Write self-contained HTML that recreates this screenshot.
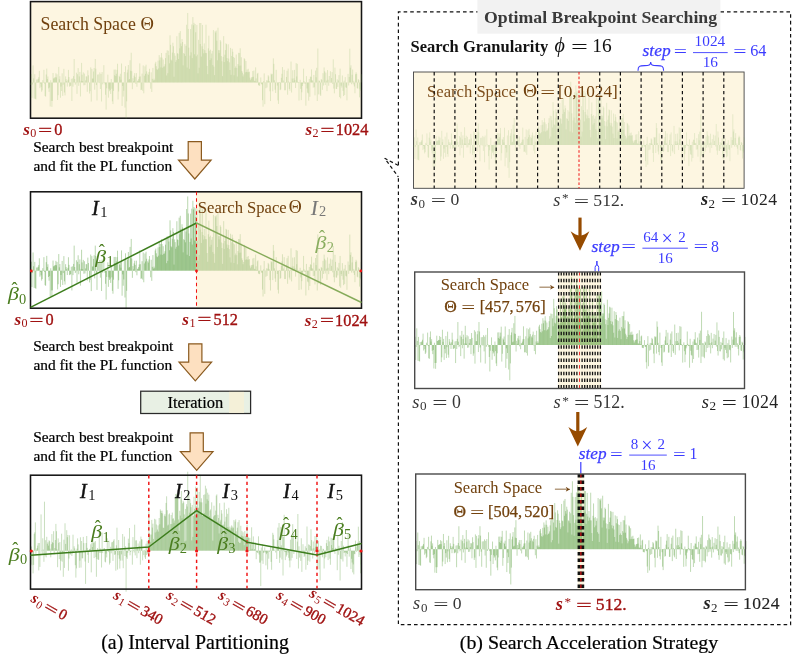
<!DOCTYPE html><html><head><meta charset="utf-8"><title>Interval Partitioning and Search Acceleration</title>
<style>html,body{margin:0;padding:0;background:#fff}svg{display:block}text{font-family:"Liberation Serif","DejaVu Serif",serif}
.m{font-style:italic}.b{font-weight:bold}.red{fill:#a01212}.brn{fill:#70400d}.grn{fill:#4a7d1f}.blu{fill:#3c3cff}.gry{fill:#333}
</style></head><body>
<svg width="798" height="668" viewBox="0 0 798 668">
<defs><path id="sL" d="M0.29 0v2.8M0.86 0v-9.6M1.43 0v17.4M2.00 0v2.3M2.57 0v-19.4M3.14 0v-4.7M3.71 0v18.3M4.28 0v-9.4M4.85 0v18.6M5.42 0v19.2M5.99 0v-3.4M6.56 0v0.5M7.13 0v-3.4M7.70 0v-4.3M8.28 0v-6.1M8.85 0v-13.2M9.42 0v6.4M9.99 0v1.2M10.56 0v4.9M11.13 0v10.5M11.70 0v8.9M12.27 0v-2.7M12.84 0v-0.5M13.41 0v-14.4M13.98 0v1.2M14.55 0v15.3M15.12 0v16.1M15.69 0v-9.1M16.26 0v-15.8M16.84 0v-4.0M17.41 0v-6.8M17.98 0v6.7M18.55 0v10.6M19.12 0v5.8M19.69 0v27.3M20.26 0v-2.6M20.83 0v20.9M21.40 0v27.7M21.97 0v20.9M22.54 0v-10.8M23.11 0v-4.6M23.68 0v-4.8M24.25 0v-5.7M24.82 0v-6.0M25.40 0v-10.5M25.97 0v-5.8M26.54 0v-9.3M27.11 0v19.9M27.68 0v14.4M28.25 0v-17.7M28.82 0v-3.6M29.39 0v-7.1M29.96 0v17.3M30.53 0v4.6M31.10 0v9.7M31.67 0v-10.4M32.24 0v15.2M32.81 0v2.5M33.39 0v-15.5M33.96 0v11.3M34.53 0v14.7M35.10 0v-6.9M35.67 0v-3.8M36.24 0v-1.6M36.81 0v4.6M37.38 0v-3.1M37.95 0v-14.3M38.52 0v-6.2M39.09 0v4.7M39.66 0v4.1M40.23 0v3.7M40.80 0v-4.2M41.38 0v21.0M41.95 0v-4.6M42.52 0v4.7M43.09 0v-7.2M43.66 0v-26.7M44.23 0v-3.9M44.80 0v2.5M45.37 0v0.7M45.94 0v-11.1M46.51 0v12.9M47.08 0v-9.4M47.65 0v-16.4M48.22 0v3.8M48.79 0v-6.9M49.36 0v-12.0M49.94 0v15.9M50.51 0v-1.9M51.08 0v-22.3M51.65 0v-8.8M52.22 0v-1.6M52.79 0v-11.5M53.36 0v3.2M53.93 0v-10.1M54.50 0v2.9M55.07 0v-2.4M55.64 0v-7.0M56.21 0v-6.8M56.78 0v10.6M57.35 0v-13.9M57.92 0v-8.2M58.50 0v-0.0M59.07 0v12.5M59.64 0v9.8M60.21 0v-17.2M60.78 0v21.7M61.35 0v-15.5M61.92 0v-4.4M62.49 0v-4.5M63.06 0v-12.5M63.63 0v-16.4M64.20 0v8.2M64.77 0v-26.7M65.34 0v-15.7M65.91 0v2.9M66.49 0v20.4M67.06 0v-9.0M67.63 0v0.1M68.20 0v-9.2M68.77 0v0.7M69.34 0v-11.4M69.91 0v7.4M70.48 0v-9.7M71.05 0v21.6M71.62 0v-11.8M72.19 0v2.1M72.76 0v0.3M73.33 0v-19.7M73.90 0v-0.5M74.48 0v2.2M75.05 0v13.9M75.62 0v30.8M76.19 0v6.6M76.76 0v-0.1M77.33 0v-8.9M77.90 0v17.2M78.47 0v7.0M79.04 0v9.9M79.61 0v8.5M80.18 0v13.0M80.75 0v-4.0M81.32 0v7.1M81.89 0v21.4M82.46 0v24.5M83.04 0v9.6M83.61 0v-14.6M84.18 0v-8.2M84.75 0v-14.7M85.32 0v-7.3M85.89 0v-9.9M86.46 0v-14.4M87.03 0v-21.3M87.60 0v19.3M88.17 0v10.2M88.74 0v-7.6M89.31 0v-6.2M89.88 0v-9.9M90.45 0v-3.2M91.03 0v-21.6M91.60 0v26.6M92.17 0v3.9M92.74 0v16.0M93.31 0v9.3M93.88 0v-11.9M94.45 0v28.5M95.02 0v-18.5M95.59 0v41.0M96.16 0v21.4M96.73 0v-11.4M97.30 0v-14.6M97.87 0v-19.9M98.44 0v-3.2M99.01 0v-4.0M99.59 0v-25.3M100.16 0v-13.4M100.73 0v-33.8M101.30 0v-12.9M101.87 0v7.6M102.44 0v-4.9M103.01 0v-1.4M103.58 0v-7.8M104.15 0v-10.6M104.72 0v-6.1M105.29 0v1.6M105.86 0v-10.7M106.43 0v4.9M107.00 0v-2.0M107.58 0v-2.0M108.15 0v-3.9M108.72 0v-6.6M109.29 0v-21.7M109.86 0v-6.9M110.43 0v8.6M111.00 0v8.2M111.57 0v-10.1M112.14 0v9.4M112.71 0v-19.4M113.28 0v12.3M113.85 0v-7.7M114.42 0v-18.3M114.99 0v-9.8M115.56 0v-20.2M116.14 0v-12.7M116.71 0v-0.4M117.28 0v-10.0M117.85 0v-8.6M118.42 0v-12.0M118.99 0v-15.6M119.56 0v0.4M120.13 0v7.0M120.70 0v-11.6M121.27 0v10.8M121.84 0v-4.1M122.41 0v-16.6M122.98 0v-2.3M123.55 0v-4.3M124.12 0v-2.6M124.70 0v-21.5M125.27 0v-23.5M125.84 0v-18.5M126.41 0v-15.2M126.98 0v-14.4M127.55 0v-24.8M128.12 0v-16.0M128.69 0v-31.1M129.26 0v-25.2M129.83 0v-28.5M130.40 0v-17.2M130.97 0v-33.5M131.54 0v-28.3M132.11 0v-16.8M132.69 0v-26.1M133.26 0v-17.9M133.83 0v-18.3M134.40 0v-20.7M134.97 0v-27.7M135.54 0v-33.6M136.11 0v-8.0M136.68 0v-36.6M137.25 0v-10.5M137.82 0v-36.1M138.39 0v-31.0M138.96 0v-21.8M139.53 0v-53.6M140.10 0v-42.8M140.67 0v-25.9M141.25 0v-24.9M141.82 0v-34.0M142.39 0v-45.2M142.96 0v-41.2M143.53 0v-6.5M144.10 0v-33.3M144.67 0v-30.4M145.24 0v-23.4M145.81 0v-25.4M146.38 0v-52.6M146.95 0v-33.3M147.52 0v-32.6M148.09 0v-26.7M148.66 0v-56.4M149.24 0v-38.8M149.81 0v-58.4M150.38 0v-44.3M150.95 0v-41.3M151.52 0v-49.4M152.09 0v-46.0M152.66 0v-19.5M153.23 0v-33.5M153.80 0v-32.5M154.37 0v-43.6M154.94 0v-30.2M155.51 0v-41.7M156.08 0v-65.6M156.65 0v-17.0M157.22 0v-79.0M157.80 0v-60.9M158.37 0v-39.6M158.94 0v-15.6M159.51 0v-30.6M160.08 0v-60.7M160.65 0v-34.3M161.22 0v-66.0M161.79 0v-27.8M162.36 0v-74.4M162.93 0v-65.1M163.50 0v-67.8M164.07 0v-32.1M164.64 0v-66.4M165.21 0v-57.1"/><path id="sR" d="M165.79 0v-29.8M166.36 0v-65.4M166.93 0v-31.7M167.50 0v-10.4M168.07 0v-48.5M168.64 0v-16.8M169.21 0v-67.6M169.78 0v-43.7M170.35 0v-67.6M170.92 0v-29.5M171.49 0v-41.2M172.06 0v-65.4M172.63 0v-38.0M173.20 0v-33.2M173.78 0v-44.4M174.35 0v-36.7M174.92 0v-33.6M175.49 0v-65.7M176.06 0v-33.4M176.63 0v-18.8M177.20 0v-9.5M177.77 0v-38.8M178.34 0v-53.2M178.91 0v-36.1M179.48 0v-25.5M180.05 0v-37.3M180.62 0v-27.5M181.19 0v-32.9M181.76 0v-35.9M182.34 0v-19.8M182.91 0v-59.5M183.48 0v-18.0M184.05 0v-8.4M184.62 0v-58.2M185.19 0v-56.7M185.76 0v-59.0M186.33 0v-47.5M186.90 0v-25.2M187.47 0v-62.2M188.04 0v-36.8M188.61 0v-33.4M189.18 0v-36.7M189.75 0v-48.3M190.32 0v-46.6M190.90 0v-30.0M191.47 0v-24.1M192.04 0v-7.3M192.61 0v-29.2M193.18 0v-52.7M193.75 0v-23.2M194.32 0v-31.6M194.89 0v-36.8M195.46 0v-44.5M196.03 0v-43.6M196.60 0v-27.8M197.17 0v-24.3M197.74 0v-43.4M198.31 0v-27.2M198.89 0v-22.9M199.46 0v-14.2M200.03 0v-39.3M200.60 0v-8.7M201.17 0v-30.2M201.74 0v-38.3M202.31 0v-34.9M202.88 0v-29.0M203.45 0v-8.2M204.02 0v-28.1M204.59 0v-16.5M205.16 0v-18.3M205.73 0v-31.8M206.30 0v-16.5M206.88 0v-6.8M207.45 0v-21.0M208.02 0v-33.7M208.59 0v-19.1M209.16 0v-33.6M209.73 0v-38.9M210.30 0v-19.2M210.87 0v-28.7M211.44 0v-13.1M212.01 0v-11.2M212.58 0v-6.9M213.15 0v-9.2M213.72 0v-27.6M214.29 0v-26.4M214.86 0v-11.6M215.44 0v-24.4M216.01 0v-12.0M216.58 0v-14.7M217.15 0v-11.7M217.72 0v-15.6M218.29 0v-11.8M218.86 0v-12.3M219.43 0v-5.5M220.00 0v-2.6M220.57 0v-4.2M221.14 0v-5.9M221.71 0v-6.1M222.28 0v-13.0M222.85 0v-6.5M223.43 0v-13.6M224.00 0v-2.0M224.57 0v-1.5M225.14 0v-17.2M225.71 0v-4.6M226.28 0v-0.8M226.85 0v-10.0M227.42 0v-11.0M227.99 0v3.0M228.56 0v3.4M229.13 0v3.7M229.70 0v0.3M230.27 0v-5.7M230.84 0v1.8M231.41 0v2.3M231.99 0v20.1M232.56 0v27.5M233.13 0v-1.4M233.70 0v-10.3M234.27 0v24.7M234.84 0v-0.3M235.41 0v6.5M235.98 0v-2.5M236.55 0v5.6M237.12 0v-2.2M237.69 0v-8.3M238.26 0v-6.8M238.83 0v-1.6M239.40 0v10.0M239.97 0v21.1M240.55 0v-10.1M241.12 0v-9.0M241.69 0v-9.8M242.26 0v10.0M242.83 0v-27.4M243.40 0v-21.2M243.97 0v-2.5M244.54 0v8.2M245.11 0v11.9M245.68 0v-14.4M246.25 0v0.1M246.82 0v3.5M247.39 0v20.3M247.96 0v24.3M248.54 0v0.4M249.11 0v-0.6M249.68 0v8.7M250.25 0v7.8M250.82 0v-5.3M251.39 0v-9.9M251.96 0v-17.5M252.53 0v-0.2M253.10 0v-2.3M253.67 0v-14.4M254.24 0v8.9M254.81 0v8.8M255.38 0v-0.4M255.95 0v-6.3M256.53 0v-13.3M257.10 0v13.9M257.67 0v-15.8M258.24 0v-1.1M258.81 0v7.3M259.38 0v9.4M259.95 0v-0.4M260.52 0v-23.8M261.09 0v11.4M261.66 0v-4.5M262.23 0v-13.9M262.80 0v-1.1M263.37 0v-4.7M263.94 0v-14.3M264.51 0v-2.6M265.09 0v6.3M265.66 0v-22.0M266.23 0v-6.9M266.80 0v-21.2M267.37 0v-0.8M267.94 0v0.6M268.51 0v20.5M269.08 0v-0.3M269.65 0v-3.1M270.22 0v7.2M270.79 0v20.0M271.36 0v11.1M271.93 0v3.9M272.50 0v1.5M273.07 0v-15.7M273.65 0v-1.4M274.22 0v1.3M274.79 0v1.0M275.36 0v26.4M275.93 0v-7.2M276.50 0v6.7M277.07 0v11.5M277.64 0v12.4M278.21 0v20.7M278.78 0v-4.0M279.35 0v16.3M279.92 0v-6.8M280.49 0v-6.2M281.06 0v-14.9M281.64 0v-2.7M282.21 0v-2.0M282.78 0v5.8M283.35 0v-8.6M283.92 0v5.5M284.49 0v14.6M285.06 0v-13.5M285.63 0v-5.9M286.20 0v-16.7M286.77 0v21.0M287.34 0v-38.6M287.91 0v13.5M288.48 0v-2.2M289.05 0v-1.9M289.62 0v13.7M290.20 0v15.3M290.77 0v-4.0M291.34 0v-2.9M291.91 0v8.3M292.48 0v-10.5M293.05 0v3.5M293.62 0v-17.1M294.19 0v-12.7M294.76 0v2.9M295.33 0v-11.1M295.90 0v-2.2M296.47 0v9.8M297.04 0v-14.1M297.61 0v-3.1M298.19 0v3.7M298.76 0v-7.4M299.33 0v-0.1M299.90 0v-12.8M300.47 0v-0.4M301.04 0v-5.1M301.61 0v-11.8M302.18 0v1.8M302.75 0v-26.3M303.32 0v6.9M303.89 0v12.3M304.46 0v-16.9M305.03 0v-9.4M305.60 0v7.2M306.18 0v7.4M306.75 0v-3.6M307.32 0v5.0M307.89 0v-2.3M308.46 0v-8.3M309.03 0v16.6M309.60 0v-15.7M310.17 0v18.1M310.74 0v3.6M311.31 0v5.7M311.88 0v-8.0M312.45 0v9.5M313.02 0v15.4M313.59 0v-2.1M314.16 0v14.3M314.74 0v-6.1M315.31 0v5.4M315.88 0v6.1M316.45 0v20.3M317.02 0v-0.1M317.59 0v-9.8M318.16 0v3.4M318.73 0v-6.3M319.30 0v-38.4M319.87 0v-16.8M320.44 0v-19.5M321.01 0v2.0M321.58 0v-8.8M322.15 0v-14.8M322.72 0v2.2M323.30 0v-1.9M323.87 0v4.5M324.44 0v12.2M325.01 0v-9.4M325.58 0v-11.6M326.15 0v-9.8M326.72 0v6.4M327.29 0v7.0M327.86 0v-3.8M328.43 0v-2.6M329.00 0v16.9M329.57 0v7.6M330.14 0v9.4M330.71 0v-9.4"/><path id="s3" d="M0.29 0v13.5M0.86 0v-4.2M1.43 0v14.6M2.00 0v0.7M2.57 0v22.7M3.14 0v14.2M3.71 0v-16.9M4.28 0v-18.4M4.85 0v-28.3M5.42 0v3.2M5.99 0v-1.1M6.56 0v-2.7M7.13 0v-5.1M7.70 0v-7.6M8.28 0v19.7M8.85 0v-7.7M9.42 0v16.2M9.99 0v-0.0M10.56 0v-36.3M11.13 0v0.5M11.70 0v3.2M12.27 0v-12.4M12.84 0v-1.1M13.41 0v11.1M13.98 0v-49.0M14.55 0v5.6M15.12 0v-10.5M15.69 0v6.6M16.26 0v-13.9M16.84 0v-6.9M17.41 0v-8.4M17.98 0v-5.1M18.55 0v-10.4M19.12 0v-9.5M19.69 0v-2.0M20.26 0v6.6M20.83 0v-6.5M21.40 0v-16.6M21.97 0v-8.6M22.54 0v-7.7M23.11 0v-19.5M23.68 0v3.6M24.25 0v-2.7M24.82 0v-10.7M25.40 0v-26.8M25.97 0v-19.5M26.54 0v-1.4M27.11 0v16.5M27.68 0v-12.3M28.25 0v-7.8M28.82 0v8.4M29.39 0v-8.7M29.96 0v19.7M30.53 0v10.0M31.10 0v-17.0M31.67 0v11.0M32.24 0v1.7M32.81 0v26.1M33.39 0v-11.0M33.96 0v17.2M34.53 0v-27.4M35.10 0v-6.8M35.67 0v0.9M36.24 0v-20.5M36.81 0v-13.5M37.38 0v-15.7M37.95 0v20.0M38.52 0v7.8M39.09 0v-15.4M39.66 0v3.7M40.23 0v3.7M40.80 0v-1.3M41.38 0v5.3M41.95 0v2.6M42.52 0v-16.0M43.09 0v2.0M43.66 0v-4.4M44.23 0v-2.3M44.80 0v14.5M45.37 0v26.9M45.94 0v17.7M46.51 0v-2.0M47.08 0v-12.3M47.65 0v-6.3M48.22 0v1.4M48.79 0v17.1M49.36 0v10.0M49.94 0v-13.4M50.51 0v16.9M51.08 0v-9.7M51.65 0v7.6M52.22 0v7.6M52.79 0v-13.8M53.36 0v-7.6M53.93 0v1.5M54.50 0v10.8M55.07 0v33.2M55.64 0v-7.7M56.21 0v-14.7M56.78 0v-2.8M57.35 0v4.1M57.92 0v12.2M58.50 0v0.1M59.07 0v-1.7M59.64 0v-2.0M60.21 0v-6.4M60.78 0v21.7M61.35 0v-8.3M61.92 0v-3.7M62.49 0v-11.1M63.06 0v-7.9M63.63 0v7.4M64.20 0v-8.4M64.77 0v-9.7M65.34 0v6.5M65.91 0v26.1M66.49 0v8.4M67.06 0v-2.7M67.63 0v9.0M68.20 0v9.1M68.77 0v-20.4M69.34 0v2.3M69.91 0v-2.2M70.48 0v2.3M71.05 0v16.8M71.62 0v-18.2M72.19 0v2.4M72.76 0v-0.7M73.33 0v-2.2M73.90 0v-2.6M74.48 0v11.0M75.05 0v11.7M75.62 0v2.9M76.19 0v6.7M76.76 0v-12.4M77.33 0v-0.8M77.90 0v1.4M78.47 0v-10.0M79.04 0v13.9M79.61 0v12.2M80.18 0v-3.9M80.75 0v2.6M81.32 0v-8.3M81.89 0v-8.8M82.46 0v10.2M83.04 0v-10.0M83.61 0v-11.5M84.18 0v4.2M84.75 0v3.6M85.32 0v20.0M85.89 0v-5.4M86.46 0v-23.0M87.03 0v18.9M87.60 0v4.5M88.17 0v-10.7M88.74 0v8.0M89.31 0v17.9M89.88 0v9.9M90.45 0v-1.5M91.03 0v3.7M91.60 0v9.9M92.17 0v-16.7M92.74 0v17.5M93.31 0v-0.2M93.88 0v-14.1M94.45 0v5.3M95.02 0v-4.4M95.59 0v41.0M96.16 0v6.6M96.73 0v8.2M97.30 0v2.1M97.87 0v-12.0M98.44 0v-7.6M99.01 0v-22.7M99.59 0v4.6M100.16 0v1.3M100.73 0v0.1M101.30 0v-0.4M101.87 0v14.0M102.44 0v-13.6M103.01 0v-0.5M103.58 0v1.8M104.15 0v-26.0M104.72 0v4.7M105.29 0v-10.2M105.86 0v-10.4M106.43 0v7.5M107.00 0v-3.4M107.58 0v-7.2M108.15 0v2.5M108.72 0v-4.7M109.29 0v-9.4M109.86 0v14.0M110.43 0v-14.1M111.00 0v-11.4M111.57 0v-11.2M112.14 0v9.6M112.71 0v0.2M113.28 0v4.4M113.85 0v-0.8M114.42 0v6.7M114.99 0v8.3M115.56 0v-7.0M116.14 0v4.3M116.71 0v-9.8M117.28 0v3.5M117.85 0v-9.8M118.42 0v-40.6M118.99 0v-17.3M119.56 0v-16.1M120.13 0v-8.9M120.70 0v-16.2M121.27 0v-30.8M121.84 0v-23.1M122.41 0v-27.0M122.98 0v-11.8M123.55 0v-6.8M124.12 0v-31.9M124.70 0v-18.2M125.27 0v-31.2M125.84 0v-26.2M126.41 0v-19.1M126.98 0v-21.2M127.55 0v-25.3M128.12 0v-19.1M128.69 0v-32.7M129.26 0v-26.4M129.83 0v-41.3M130.40 0v-39.8M130.97 0v-37.7M131.54 0v-40.1M132.11 0v-37.3M132.69 0v-23.0M133.26 0v-22.8M133.83 0v-34.9M134.40 0v-36.5M134.97 0v-34.4M135.54 0v-47.8M136.11 0v-54.4M136.68 0v-40.5M137.25 0v-25.2M137.82 0v-26.1M138.39 0v-36.3M138.96 0v-37.3M139.53 0v-18.6M140.10 0v-26.6M140.67 0v-35.7M141.25 0v-26.7M141.82 0v-38.1M142.39 0v-32.0M142.96 0v-32.3M143.53 0v-27.9M144.10 0v-30.2M144.67 0v-52.7M145.24 0v-56.7M145.81 0v-53.9M146.38 0v-57.1M146.95 0v-56.1M147.52 0v-58.2M148.09 0v-31.2M148.66 0v-19.9M149.24 0v-39.9M149.81 0v-35.1M150.38 0v-52.2M150.95 0v-59.7M151.52 0v-32.5M152.09 0v-47.4M152.66 0v-49.9M153.23 0v-48.3M153.80 0v-36.3M154.37 0v-9.2M154.94 0v-41.8M155.51 0v-10.0M156.08 0v-46.5M156.65 0v-44.2M157.22 0v-79.0M157.80 0v-34.5M158.37 0v-55.7M158.94 0v-38.0M159.51 0v-51.5M160.08 0v-47.6M160.65 0v-43.5M161.22 0v-10.3M161.79 0v-45.7M162.36 0v-13.8M162.93 0v-34.7M163.50 0v-54.0M164.07 0v-41.8M164.64 0v-35.6M165.21 0v-64.0M165.79 0v-44.6M166.36 0v-40.8M166.93 0v-63.1M167.50 0v-42.3M168.07 0v-43.0M168.64 0v-58.7M169.21 0v-49.2M169.78 0v-74.9M170.35 0v-48.4M170.92 0v-52.4M171.49 0v-48.3M172.06 0v-34.8M172.63 0v-34.7M173.20 0v-55.8M173.78 0v-37.5M174.35 0v-56.3M174.92 0v-65.0M175.49 0v-47.0M176.06 0v-62.1M176.63 0v-51.4M177.20 0v-58.0M177.77 0v-49.9M178.34 0v-56.1M178.91 0v-34.3M179.48 0v-40.1M180.05 0v-41.3M180.62 0v-32.1M181.19 0v-48.4M181.76 0v-31.7M182.34 0v-10.1M182.91 0v-34.2M183.48 0v-45.0M184.05 0v-35.2M184.62 0v-35.7M185.19 0v-40.1M185.76 0v-55.1M186.33 0v-56.3M186.90 0v-29.1M187.47 0v-35.9M188.04 0v-32.7M188.61 0v-17.2M189.18 0v-47.5M189.75 0v-29.2M190.32 0v-30.9M190.90 0v-40.6M191.47 0v-37.1M192.04 0v-25.8M192.61 0v-11.6M193.18 0v-26.1M193.75 0v-48.1M194.32 0v-29.1M194.89 0v-21.7M195.46 0v-33.9M196.03 0v-41.5M196.60 0v-23.7M197.17 0v-36.9M197.74 0v-23.3M198.31 0v-42.9M198.89 0v-21.6M199.46 0v-24.1M200.03 0v-20.9M200.60 0v-22.8M201.17 0v-25.3M201.74 0v-24.1M202.31 0v-22.3M202.88 0v-23.1M203.45 0v-30.6M204.02 0v-5.8M204.59 0v-29.1M205.16 0v-31.3M205.73 0v-19.4M206.30 0v-16.5M206.88 0v-23.0M207.45 0v-28.5M208.02 0v-8.9M208.59 0v-30.6M209.16 0v-7.7M209.73 0v-8.0M210.30 0v-24.9M210.87 0v-15.2M211.44 0v-19.8M212.01 0v-14.4M212.58 0v-18.4M213.15 0v-14.2M213.72 0v-5.5M214.29 0v-19.6M214.86 0v-14.8M215.44 0v-11.2M216.01 0v-16.4M216.58 0v-26.0M217.15 0v-16.6M217.72 0v-13.3M218.29 0v-12.9M218.86 0v-0.7M219.43 0v-12.9M220.00 0v-6.4M220.57 0v-1.2M221.14 0v-23.4M221.71 0v-1.9M222.28 0v-7.7M222.85 0v-14.3M223.43 0v-0.6M224.00 0v-1.7M224.57 0v-6.1M225.14 0v-8.5M225.71 0v8.5M226.28 0v1.1M226.85 0v1.9M227.42 0v2.4M227.99 0v-14.4M228.56 0v3.8M229.13 0v12.0M229.70 0v11.8M230.27 0v35.4M230.84 0v-3.2M231.41 0v9.9M231.99 0v-6.3M232.56 0v13.2M233.13 0v2.2M233.70 0v1.6M234.27 0v-3.3M234.84 0v1.7M235.41 0v14.7M235.98 0v3.5M236.55 0v2.3M237.12 0v18.8M237.69 0v0.2M238.26 0v8.0M238.83 0v1.3M239.40 0v-0.4M239.97 0v-4.1M240.55 0v11.2M241.12 0v19.1M241.69 0v-3.2M242.26 0v-17.9M242.83 0v-15.9M243.40 0v-11.3M243.97 0v-0.4M244.54 0v0.1M245.11 0v1.8M245.68 0v-3.5M246.25 0v8.3M246.82 0v-10.6M247.39 0v-23.1M247.96 0v-4.6M248.54 0v-27.7M249.11 0v12.2M249.68 0v7.0M250.25 0v-23.9M250.82 0v-5.4M251.39 0v8.8M251.96 0v-26.3M252.53 0v24.8M253.10 0v-13.8M253.67 0v-35.9M254.24 0v1.4M254.81 0v9.4M255.38 0v1.4M255.95 0v5.8M256.53 0v4.2M257.10 0v-1.5M257.67 0v1.8M258.24 0v7.1M258.81 0v9.9M259.38 0v16.7M259.95 0v-11.0M260.52 0v9.8M261.09 0v-14.6M261.66 0v7.2M262.23 0v-26.5M262.80 0v-16.8M263.37 0v3.3M263.94 0v0.6M264.51 0v0.2M265.09 0v-19.8M265.66 0v-0.3M266.23 0v8.3M266.80 0v-9.1M267.37 0v-36.7M267.94 0v17.8M268.51 0v-4.4M269.08 0v6.9M269.65 0v-0.0M270.22 0v10.2M270.79 0v-12.4M271.36 0v21.2M271.93 0v0.8M272.50 0v-6.5M273.07 0v2.0M273.65 0v6.3M274.22 0v5.1M274.79 0v-4.4M275.36 0v19.0M275.93 0v-2.6M276.50 0v-24.2M277.07 0v14.3M277.64 0v10.0M278.21 0v-6.4M278.78 0v-5.7M279.35 0v10.9M279.92 0v-4.7M280.49 0v-21.5M281.06 0v-10.6M281.64 0v-2.1M282.21 0v7.8M282.78 0v-9.2M283.35 0v-2.5M283.92 0v2.3M284.49 0v-14.6M285.06 0v-4.0M285.63 0v-7.4M286.20 0v-16.0M286.77 0v16.9M287.34 0v5.1M287.91 0v-9.8M288.48 0v18.6M289.05 0v-1.2M289.62 0v29.7M290.20 0v-5.0M290.77 0v-4.7M291.34 0v3.9M291.91 0v6.6M292.48 0v-2.0M293.05 0v-1.5M293.62 0v17.8M294.19 0v7.8M294.76 0v2.6M295.33 0v6.5M295.90 0v-7.5M296.47 0v-10.8M297.04 0v-4.7M297.61 0v9.4M298.19 0v-14.1M298.76 0v-9.3M299.33 0v8.0M299.90 0v14.1M300.47 0v-13.0M301.04 0v-5.6M301.61 0v-12.7M302.18 0v-2.7M302.75 0v-12.0M303.32 0v-16.6M303.89 0v0.7M304.46 0v3.2M305.03 0v-2.9M305.60 0v0.3M306.18 0v-2.1M306.75 0v19.5M307.32 0v-15.5M307.89 0v4.1M308.46 0v-4.9M309.03 0v-1.7M309.60 0v29.8M310.17 0v8.1M310.74 0v-9.7M311.31 0v8.6M311.88 0v-28.6M312.45 0v10.8M313.02 0v-5.0M313.59 0v2.3M314.16 0v1.6M314.74 0v5.7M315.31 0v1.6M315.88 0v2.5M316.45 0v16.1M317.02 0v3.3M317.59 0v-17.1M318.16 0v-5.2M318.73 0v5.9M319.30 0v-1.2M319.87 0v-3.1M320.44 0v18.3M321.01 0v8.1M321.58 0v11.8M322.15 0v21.7M322.72 0v13.7M323.30 0v23.7M323.87 0v3.2M324.44 0v3.5M325.01 0v-10.1M325.58 0v-4.0M326.15 0v1.2M326.72 0v-6.4M327.29 0v-8.1M327.86 0v-24.0M328.43 0v6.3M329.00 0v-9.7M329.57 0v4.2M330.14 0v22.6M330.71 0v13.8"/>
</defs>
<rect width="798" height="668" fill="#fff"/>
<rect x="30.5" y="1.6" width="331" height="116.6" fill="#fdf6e1" stroke="#151515" stroke-width="1.55"/>
<g transform="translate(30.50 82.50) scale(1 0.88)" fill="none" stroke-width="0.47">
<use href="#sL" stroke="#7fae58" stroke-opacity="0.52"/>
<use href="#sR" stroke="#7fae58" stroke-opacity="0.52"/>
</g>
<text x="40.5" y="30.4" class="brn" font-size="17.8">Search Space</text>
<text x="140.5" y="30.4" class="brn" font-size="18.6">Θ</text>
<text x="23.16" y="134.70" font-size="17.0" fill="#a01212" class="m b">s</text>
<text x="30.24" y="137.31" font-size="12.1" fill="#a01212">0</text>
<text transform="translate(39.30 135.68) scale(1.508 1)" x="-0.65" y="0" font-size="16.3" fill="#a01212" stroke="#a01212" stroke-width="0.35">=</text>
<text x="54.31" y="134.70" font-size="16.3" fill="#a01212" stroke="#a01212" stroke-width="0.35">0</text>
<text x="305.46" y="134.70" font-size="17.0" fill="#a01212" class="m b">s</text>
<text x="312.54" y="137.31" font-size="12.1" fill="#a01212">2</text>
<text transform="translate(321.60 135.68) scale(1.508 1)" x="-0.65" y="0" font-size="16.3" fill="#a01212" stroke="#a01212" stroke-width="0.35">=</text>
<text x="335.80" y="134.70" font-size="16.3" fill="#a01212" stroke="#a01212" stroke-width="0.35">1024</text>
<text x="33.2" y="152.4" font-size="15.4" fill="#000" stroke="#000" stroke-width="0.22">Search best breakpoint</text>
<text x="33.4" y="171.4" font-size="15.4" fill="#000" stroke="#000" stroke-width="0.22">and fit the PL function</text>
<path d="M188.2 141.7 H201.4 V160.2 H211.1 L194.8 179.0 L178.5 160.2 H188.2 Z" fill="#fde0c0" stroke="#8a5a1f" stroke-width="1.2" stroke-linejoin="miter"/>
<rect x="30.5" y="191.8" width="331" height="116" fill="#fff"/>
<rect x="196.3" y="191.8" width="165.2" height="116" fill="#fdf6e1"/>
<g transform="translate(30.50 270.70) scale(1 0.94)" fill="none" stroke-width="0.47">
<use href="#sL" stroke="#419021" stroke-opacity="0.80"/>
<use href="#sR" stroke="#7fae58" stroke-opacity="0.60"/>
</g>
<rect x="30.5" y="191.8" width="331" height="116.4" fill="none" stroke="#151515" stroke-width="1.55"/>
<line x1="196.5" y1="191.8" x2="196.5" y2="307.8" stroke="#f01414" stroke-width="1.05" stroke-dasharray="3.4 3.1"/>
<path d="M30.5 307.3 L196.5 223" stroke="#3c7d1c" stroke-width="1.5" fill="none"/>
<path d="M196.5 223 L361.5 302.5" stroke="#86ab5a" stroke-width="1.4" fill="none"/>
<circle cx="31.3" cy="271" r="1.4" fill="#f01414"/>
<circle cx="196.5" cy="271" r="1.4" fill="#f01414"/>
<circle cx="360.8" cy="271" r="1.4" fill="#f01414"/>
<text x="92.0" y="214.6" font-size="20.0" fill="#111" stroke="#111" stroke-width="0.45" class="m">I</text>
<text x="100.2" y="216.5" font-size="14.4" fill="#111">1</text>
<text x="310.9" y="214.5" font-size="20.0" fill="#777" stroke="#777" stroke-width="0.20" class="m">I</text>
<text x="319.1" y="216.4" font-size="14.4" fill="#777">2</text>
<text x="197.8" y="212.5" class="brn" font-size="16.6">Search Space</text>
<text x="288.7" y="212.5" class="brn" font-size="18">Θ</text>
<text transform="translate(94.8 263.0) scale(1.12 1)" x="0.39" y="0" font-size="19.5" fill="#4a7d1f" class="m">β</text>
<text x="106.4" y="266.2" font-size="14.4" fill="#4a7d1f">1</text>
<text x="98.8" y="257.4" font-size="18.0" fill="#4a7d1f">ˆ</text>
<text transform="translate(315.1 249.0) scale(1.12 1)" x="0.39" y="0" font-size="19.5" fill="#8aad60" class="m">β</text>
<text x="326.7" y="252.2" font-size="14.4" fill="#8aad60">2</text>
<text x="319.1" y="243.4" font-size="18.0" fill="#8aad60">ˆ</text>
<text transform="translate(7.5 300.3) scale(1.12 1)" x="0.39" y="0" font-size="19.5" fill="#4a7d1f" class="m">β</text>
<text x="19.1" y="303.5" font-size="14.4" fill="#4a7d1f">0</text>
<text x="11.5" y="294.7" font-size="18.0" fill="#4a7d1f">ˆ</text>
<text x="14.46" y="324.60" font-size="17.0" fill="#a01212" class="m b">s</text>
<text x="21.54" y="327.21" font-size="12.1" fill="#a01212">0</text>
<text transform="translate(30.60 325.58) scale(1.508 1)" x="-0.65" y="0" font-size="16.3" fill="#a01212" stroke="#a01212" stroke-width="0.35">=</text>
<text x="45.61" y="324.60" font-size="16.3" fill="#a01212" stroke="#a01212" stroke-width="0.35">0</text>
<text x="182.36" y="324.50" font-size="17.0" fill="#a01212" class="m b">s</text>
<text x="189.44" y="327.11" font-size="12.1" fill="#a01212">1</text>
<text transform="translate(198.50 325.48) scale(1.508 1)" x="-0.65" y="0" font-size="16.3" fill="#a01212" stroke="#a01212" stroke-width="0.35">=</text>
<text x="213.51" y="324.50" font-size="16.3" fill="#a01212" stroke="#a01212" stroke-width="0.35">512</text>
<text x="304.76" y="325.50" font-size="17.0" fill="#a01212" class="m b">s</text>
<text x="311.84" y="328.11" font-size="12.1" fill="#a01212">2</text>
<text transform="translate(320.90 326.48) scale(1.508 1)" x="-0.65" y="0" font-size="16.3" fill="#a01212" stroke="#a01212" stroke-width="0.35">=</text>
<text x="335.10" y="325.50" font-size="16.3" fill="#a01212" stroke="#a01212" stroke-width="0.35">1024</text>
<text x="33.2" y="350.7" font-size="15.4" fill="#000" stroke="#000" stroke-width="0.22">Search best breakpoint</text>
<text x="33.4" y="369.7" font-size="15.4" fill="#000" stroke="#000" stroke-width="0.22">and fit the PL function</text>
<path d="M188.7 343.8 H201.9 V362.1 H211.6 L195.3 380.9 L179.0 362.1 H188.7 Z" fill="#fde0c0" stroke="#8a5a1f" stroke-width="1.2" stroke-linejoin="miter"/>
<rect x="140.7" y="391.2" width="109.9" height="22.3" fill="#e8f0e4" stroke="#2a2a2a" stroke-width="1.25"/>
<rect x="229.1" y="391.9" width="14.9" height="21" fill="#f4f0d8"/>
<text x="167.4" y="407.8" font-size="16.5" fill="#000" stroke="#000" stroke-width="0.2">Iteration</text>
<text x="33.2" y="441.5" font-size="15.4" fill="#000" stroke="#000" stroke-width="0.22">Search best breakpoint</text>
<text x="33.4" y="460.5" font-size="15.4" fill="#000" stroke="#000" stroke-width="0.22">and fit the PL function</text>
<path d="M190.1 432.8 H203.3 V451.6 H213.0 L196.7 470.4 L180.4 451.6 H190.1 Z" fill="#fde0c0" stroke="#8a5a1f" stroke-width="1.2" stroke-linejoin="miter"/>
<rect x="30.5" y="475.2" width="331" height="113.4" fill="#fff"/>
<use href="#s3" transform="translate(30.50 550.7)" fill="none" stroke="#419021" stroke-opacity="0.72" stroke-width="0.4"/>
<rect x="30.5" y="475.2" width="331" height="113.9" fill="none" stroke="#151515" stroke-width="1.55"/>
<line x1="148.8" y1="475.2" x2="148.8" y2="588.6" stroke="#f01414" stroke-width="1.45" stroke-dasharray="3.4 3.1"/>
<line x1="196.6" y1="475.2" x2="196.6" y2="588.6" stroke="#f01414" stroke-width="1.45" stroke-dasharray="3.4 3.1"/>
<line x1="247.0" y1="475.2" x2="247.0" y2="588.6" stroke="#f01414" stroke-width="1.45" stroke-dasharray="3.4 3.1"/>
<line x1="317.0" y1="475.2" x2="317.0" y2="588.6" stroke="#f01414" stroke-width="1.45" stroke-dasharray="3.4 3.1"/>
<path d="M30.5 555.2 L148.8 547 L196.6 510.7 L247 542.2 L317 555 L361.5 543.4" stroke="#3c7d1c" stroke-width="1.5" fill="none" stroke-linejoin="round"/>
<circle cx="31.3" cy="551" r="1.6" fill="#f01414"/>
<circle cx="148.8" cy="551" r="1.6" fill="#f01414"/>
<circle cx="196.6" cy="551" r="1.6" fill="#f01414"/>
<circle cx="247.0" cy="551" r="1.6" fill="#f01414"/>
<circle cx="317.0" cy="551" r="1.6" fill="#f01414"/>
<circle cx="361.0" cy="551" r="1.6" fill="#f01414"/>
<text x="80.0" y="497.7" font-size="20.0" fill="#111" stroke="#111" stroke-width="0.45" class="m">I</text>
<text x="88.2" y="499.6" font-size="14.4" fill="#111">1</text>
<text x="175.1" y="497.7" font-size="20.0" fill="#111" stroke="#111" stroke-width="0.45" class="m">I</text>
<text x="183.3" y="499.6" font-size="14.4" fill="#111">2</text>
<text x="222.6" y="497.7" font-size="20.0" fill="#111" stroke="#111" stroke-width="0.45" class="m">I</text>
<text x="230.8" y="499.6" font-size="14.4" fill="#111">3</text>
<text x="283.3" y="497.7" font-size="20.0" fill="#111" stroke="#111" stroke-width="0.45" class="m">I</text>
<text x="291.5" y="499.6" font-size="14.4" fill="#111">4</text>
<text x="327.6" y="497.7" font-size="20.0" fill="#111" stroke="#111" stroke-width="0.45" class="m">I</text>
<text x="335.8" y="499.6" font-size="14.4" fill="#111">5</text>
<text transform="translate(8.3 561.0) scale(1.12 1)" x="0.39" y="0" font-size="19.5" fill="#4a7d1f" class="m">β</text>
<text x="19.9" y="564.2" font-size="14.4" fill="#4a7d1f">0</text>
<text x="12.3" y="555.4" font-size="18.0" fill="#4a7d1f">ˆ</text>
<text transform="translate(90.8 538.3) scale(1.12 1)" x="0.39" y="0" font-size="19.5" fill="#4a7d1f" class="m">β</text>
<text x="102.4" y="541.5" font-size="14.4" fill="#4a7d1f">1</text>
<text x="94.8" y="532.7" font-size="18.0" fill="#4a7d1f">ˆ</text>
<text transform="translate(168.2 549.5) scale(1.12 1)" x="0.39" y="0" font-size="19.5" fill="#4a7d1f" class="m">β</text>
<text x="179.8" y="552.7" font-size="14.4" fill="#4a7d1f">2</text>
<text x="172.2" y="543.9" font-size="18.0" fill="#4a7d1f">ˆ</text>
<text transform="translate(216.7 549.6) scale(1.12 1)" x="0.39" y="0" font-size="19.5" fill="#4a7d1f" class="m">β</text>
<text x="228.3" y="552.8" font-size="14.4" fill="#4a7d1f">3</text>
<text x="220.7" y="544.0" font-size="18.0" fill="#4a7d1f">ˆ</text>
<text transform="translate(279.0 536.0) scale(1.12 1)" x="0.39" y="0" font-size="19.5" fill="#4a7d1f" class="m">β</text>
<text x="290.6" y="539.2" font-size="14.4" fill="#4a7d1f">4</text>
<text x="283.0" y="530.4" font-size="18.0" fill="#4a7d1f">ˆ</text>
<text transform="translate(332.5 535.8) scale(1.12 1)" x="0.39" y="0" font-size="19.5" fill="#4a7d1f" class="m">β</text>
<text x="344.1" y="539.0" font-size="14.4" fill="#4a7d1f">5</text>
<text x="336.5" y="530.2" font-size="18.0" fill="#4a7d1f">ˆ</text>
<g transform="rotate(30 30.0 601.0)">
<text x="30.15" y="601.00" font-size="15.7" fill="#a01212" class="m b">s</text>
<text x="37.26" y="603.42" font-size="11.2" fill="#a01212">0</text>
<text transform="translate(46.30 601.91) scale(1.628 1)" x="-0.60" y="0" font-size="15.1" fill="#a01212" stroke="#a01212" stroke-width="0.35">=</text>
<text x="61.35" y="601.00" font-size="15.1" fill="#a01212" stroke="#a01212" stroke-width="0.35">0</text>
</g>
<g transform="rotate(30 112.5 598.0)">
<text x="112.65" y="598.00" font-size="15.7" fill="#a01212" class="m b">s</text>
<text x="119.76" y="600.42" font-size="11.2" fill="#a01212">1</text>
<text transform="translate(128.80 598.91) scale(1.628 1)" x="-0.60" y="0" font-size="15.1" fill="#a01212" stroke="#a01212" stroke-width="0.35">=</text>
<text x="143.85" y="598.00" font-size="15.1" fill="#a01212" stroke="#a01212" stroke-width="0.35">340</text>
</g>
<g transform="rotate(30 165.5 598.0)">
<text x="165.65" y="598.00" font-size="15.7" fill="#a01212" class="m b">s</text>
<text x="172.76" y="600.42" font-size="11.2" fill="#a01212">2</text>
<text transform="translate(181.80 598.91) scale(1.628 1)" x="-0.60" y="0" font-size="15.1" fill="#a01212" stroke="#a01212" stroke-width="0.35">=</text>
<text x="196.85" y="598.00" font-size="15.1" fill="#a01212" stroke="#a01212" stroke-width="0.35">512</text>
</g>
<g transform="rotate(30 217.5 598.0)">
<text x="217.65" y="598.00" font-size="15.7" fill="#a01212" class="m b">s</text>
<text x="224.76" y="600.42" font-size="11.2" fill="#a01212">3</text>
<text transform="translate(233.80 598.91) scale(1.628 1)" x="-0.60" y="0" font-size="15.1" fill="#a01212" stroke="#a01212" stroke-width="0.35">=</text>
<text x="248.85" y="598.00" font-size="15.1" fill="#a01212" stroke="#a01212" stroke-width="0.35">680</text>
</g>
<g transform="rotate(30 275.5 598.0)">
<text x="275.65" y="598.00" font-size="15.7" fill="#a01212" class="m b">s</text>
<text x="282.76" y="600.42" font-size="11.2" fill="#a01212">4</text>
<text transform="translate(291.80 598.91) scale(1.628 1)" x="-0.60" y="0" font-size="15.1" fill="#a01212" stroke="#a01212" stroke-width="0.35">=</text>
<text x="306.85" y="598.00" font-size="15.1" fill="#a01212" stroke="#a01212" stroke-width="0.35">900</text>
</g>
<g transform="rotate(30 308.5 596.0)">
<text x="308.65" y="596.00" font-size="15.7" fill="#a01212" class="m b">s</text>
<text x="315.76" y="598.42" font-size="11.2" fill="#a01212">5</text>
<text transform="translate(324.80 596.91) scale(1.628 1)" x="-0.60" y="0" font-size="15.1" fill="#a01212" stroke="#a01212" stroke-width="0.35">=</text>
<text x="339.09" y="596.00" font-size="15.1" fill="#a01212" stroke="#a01212" stroke-width="0.35">1024</text>
</g>
<text x="101.2" y="649.4" font-size="19.9" fill="#000" stroke="#000" stroke-width="0.2">(a) Interval Partitioning</text>
<path d="M398.4 165 V11.8 H790.6 V624.6 H398.4 V177" fill="none" stroke="#111" stroke-width="1.2" stroke-dasharray="3.6 3"/>
<path d="M398.4 165.5 L384.7 158.3 L398.4 177" fill="none" stroke="#111" stroke-width="1.2" stroke-dasharray="3.6 2.6"/>
<rect x="477.4" y="0" width="243" height="33.7" fill="#f2f2f2"/>
<text x="484" y="23.4" font-size="17.75" class="b" fill="#3a3a3a">Optimal Breakpoint Searching</text>
<text x="410.5" y="51.5" font-size="16.5" class="b" fill="#111">Search Granularity</text>
<text x="554.6" y="51.5" font-size="20" fill="#111" class="m">ϕ</text>
<text transform="translate(572.20 52.64) scale(1.579 1)" x="-0.76" y="0" font-size="19.0" fill="#111">=</text>
<text x="592.2" y="51.5" font-size="19.4" fill="#111">16</text>
<text x="642.6" y="56.3" font-size="17.4" fill="#3c3cff" stroke="#3c3cff" stroke-width="0.25" class="m">step</text>
<text transform="translate(674.70 57.28) scale(1.444 1)" x="-0.65" y="0" font-size="16.3" fill="#3c3cff">=</text>
<text x="694.6" y="46.0" font-size="15.3" fill="#3c3cff">1024</text>
<line x1="693.0" y1="52.6" x2="727.7" y2="52.6" stroke="#3c3cff" stroke-width="0.9"/>
<text x="702.7" y="66.7" font-size="15.3" fill="#3c3cff">16</text>
<text transform="translate(734.30 57.28) scale(1.444 1)" x="-0.65" y="0" font-size="16.3" fill="#3c3cff">=</text>
<text x="750.2" y="56.3" font-size="16.2" fill="#3c3cff">64</text>
<path d="M638 70.8 C638 66 639.5 65.6 644.5 65.6 C649 65.6 650.7 65 650.7 62 C650.7 65 652.4 65.6 657 65.6 C662 65.6 663.6 66 663.6 70.8" fill="none" stroke="#3c3cff" stroke-width="1.1"/>
<rect x="413.5" y="72" width="330.6" height="116.3" fill="#fdf6e1" stroke="#444" stroke-width="0.9"/>
<g transform="translate(413.50 145.00) scale(1 0.80)" fill="none" stroke-width="0.47">
<use href="#sL" stroke="#7fae58" stroke-opacity="0.42"/>
<use href="#sR" stroke="#7fae58" stroke-opacity="0.42"/>
</g>
<text x="427.1" y="97" font-size="16.6" fill="#7d4e1c">Search Space</text>
<text x="523" y="97" font-size="19.6" class="brn">Θ</text>
<text transform="translate(541.40 98.06) scale(1.503 1)" x="-0.70" y="0" font-size="17.6" fill="#75440f">=</text>
<text x="558" y="97" font-size="17.2" class="brn">[0,<tspan dx="1">1024]</tspan></text>
<line x1="434.2" y1="72" x2="434.2" y2="188.3" stroke="#111" stroke-width="1.2" stroke-dasharray="3.4 2.9"/>
<line x1="454.9" y1="72" x2="454.9" y2="188.3" stroke="#111" stroke-width="1.2" stroke-dasharray="3.4 2.9"/>
<line x1="475.6" y1="72" x2="475.6" y2="188.3" stroke="#111" stroke-width="1.2" stroke-dasharray="3.4 2.9"/>
<line x1="496.2" y1="72" x2="496.2" y2="188.3" stroke="#111" stroke-width="1.2" stroke-dasharray="3.4 2.9"/>
<line x1="516.9" y1="72" x2="516.9" y2="188.3" stroke="#111" stroke-width="1.2" stroke-dasharray="3.4 2.9"/>
<line x1="537.6" y1="72" x2="537.6" y2="188.3" stroke="#111" stroke-width="1.2" stroke-dasharray="3.4 2.9"/>
<line x1="558.3" y1="72" x2="558.3" y2="188.3" stroke="#111" stroke-width="1.2" stroke-dasharray="3.4 2.9"/>
<line x1="579.0" y1="72" x2="579.0" y2="188.3" stroke="#f01414" stroke-width="1" stroke-dasharray="2.6 2"/>
<line x1="599.7" y1="72" x2="599.7" y2="188.3" stroke="#111" stroke-width="1.2" stroke-dasharray="3.4 2.9"/>
<line x1="620.4" y1="72" x2="620.4" y2="188.3" stroke="#111" stroke-width="1.2" stroke-dasharray="3.4 2.9"/>
<line x1="641.1" y1="72" x2="641.1" y2="188.3" stroke="#111" stroke-width="1.2" stroke-dasharray="3.4 2.9"/>
<line x1="661.8" y1="72" x2="661.8" y2="188.3" stroke="#111" stroke-width="1.2" stroke-dasharray="3.4 2.9"/>
<line x1="682.4" y1="72" x2="682.4" y2="188.3" stroke="#111" stroke-width="1.2" stroke-dasharray="3.4 2.9"/>
<line x1="703.1" y1="72" x2="703.1" y2="188.3" stroke="#111" stroke-width="1.2" stroke-dasharray="3.4 2.9"/>
<line x1="723.8" y1="72" x2="723.8" y2="188.3" stroke="#111" stroke-width="1.2" stroke-dasharray="3.4 2.9"/>
<text x="410.68" y="205.00" font-size="18.3" fill="#363636" class="m b">s</text>
<text x="418.61" y="207.82" font-size="13.0" fill="#363636">0</text>
<text transform="translate(431.90 206.06) scale(1.539 1)" x="-0.70" y="0" font-size="17.6" fill="#363636">=</text>
<text x="450.57" y="205.00" font-size="17.6" fill="#363636">0</text>
<text x="553.28" y="205.60" font-size="18.3" fill="#363636" class="m">s</text>
<text x="561.97" y="202.08" font-size="13.2" fill="#363636">*</text>
<text transform="translate(574.80 206.66) scale(1.551 1)" x="-0.70" y="0" font-size="17.6" fill="#363636">=</text>
<text x="593.37" y="205.60" font-size="17.6" fill="#363636">512.</text>
<text x="700.88" y="205.00" font-size="18.3" fill="#222" class="m b">s</text>
<text x="708.61" y="207.82" font-size="13.0" fill="#222">2</text>
<text transform="translate(722.00 206.06) scale(1.527 1)" x="-0.70" y="0" font-size="17.6" fill="#222">=</text>
<text x="740.59" y="205.00" font-size="17.6" fill="#222" letter-spacing="0.4">1024</text>
<path d="M580.0 217.6 V240.7" stroke="#964b00" stroke-width="3.2" fill="none"/>
<path d="M580.0 250.7 L570.6 231.2 Q576.0 235.2 580.0 235.7 Q584.0 235.2 589.4 231.2 Z" fill="#964b00"/>
<text x="591.6" y="251.5" font-size="17.4" fill="#3c3cff" stroke="#3c3cff" stroke-width="0.25" class="m">step</text>
<text transform="translate(622.30 252.46) scale(1.641 1)" x="-0.64" y="0" font-size="16.0" fill="#3c3cff">=</text>
<text x="643.3" y="242.1" font-size="15.0" fill="#3c3cff">64</text>
<text x="661.6" y="244.7" font-size="20.0" fill="#3c3cff">×</text>
<text x="678.3" y="242.1" font-size="15.0" fill="#3c3cff">2</text>
<line x1="642.4" y1="248.2" x2="687.9" y2="248.2" stroke="#3c3cff" stroke-width="0.9"/>
<text x="657.8" y="263.2" font-size="15.0" fill="#3c3cff">16</text>
<text transform="translate(694.50 252.46) scale(1.641 1)" x="-0.64" y="0" font-size="16.0" fill="#3c3cff">=</text>
<text x="711.0" y="251.5" font-size="15.9" fill="#3c3cff">8</text>
<path d="M595.1 271.5 V267.5 Q595.1 265.3 596.9 265 V261 V265 Q598.7 265.3 598.7 267.5 V271.5" fill="none" stroke="#3c3cff" stroke-width="1"/>
<rect x="414.7" y="272" width="329.8" height="116" fill="#fff"/>
<rect x="557.8" y="272" width="43.4" height="116" fill="#fdf6e1"/>
<g transform="translate(414.20 345.00) scale(1 0.86)" fill="none" stroke-width="0.47">
<use href="#sL" stroke="#419021" stroke-opacity="0.78"/>
<use href="#sR" stroke="#419021" stroke-opacity="0.78"/>
</g>
<line x1="558.62" y1="272" x2="558.62" y2="388" stroke="#111" stroke-width="1.3" stroke-dasharray="3.5 3.15"/>
<line x1="561.23" y1="272" x2="561.23" y2="388" stroke="#111" stroke-width="1.3" stroke-dasharray="3.5 3.15"/>
<line x1="563.84" y1="272" x2="563.84" y2="388" stroke="#111" stroke-width="1.3" stroke-dasharray="3.5 3.15"/>
<line x1="566.45" y1="272" x2="566.45" y2="388" stroke="#111" stroke-width="1.3" stroke-dasharray="3.5 3.15"/>
<line x1="569.06" y1="272" x2="569.06" y2="388" stroke="#111" stroke-width="1.3" stroke-dasharray="3.5 3.15"/>
<line x1="571.67" y1="272" x2="571.67" y2="388" stroke="#111" stroke-width="1.3" stroke-dasharray="3.5 3.15"/>
<line x1="574.28" y1="272" x2="574.28" y2="388" stroke="#111" stroke-width="1.3" stroke-dasharray="3.5 3.15"/>
<line x1="576.89" y1="272" x2="576.89" y2="388" stroke="#111" stroke-width="1.3" stroke-dasharray="3.5 3.15"/>
<line x1="579.50" y1="272" x2="579.50" y2="388" stroke="#f01818" stroke-width="0.9" stroke-dasharray="3.5 3.15"/>
<line x1="582.11" y1="272" x2="582.11" y2="388" stroke="#111" stroke-width="1.3" stroke-dasharray="3.5 3.15"/>
<line x1="584.72" y1="272" x2="584.72" y2="388" stroke="#111" stroke-width="1.3" stroke-dasharray="3.5 3.15"/>
<line x1="587.33" y1="272" x2="587.33" y2="388" stroke="#111" stroke-width="1.3" stroke-dasharray="3.5 3.15"/>
<line x1="589.94" y1="272" x2="589.94" y2="388" stroke="#111" stroke-width="1.3" stroke-dasharray="3.5 3.15"/>
<line x1="592.55" y1="272" x2="592.55" y2="388" stroke="#111" stroke-width="1.3" stroke-dasharray="3.5 3.15"/>
<line x1="595.16" y1="272" x2="595.16" y2="388" stroke="#111" stroke-width="1.3" stroke-dasharray="3.5 3.15"/>
<line x1="597.77" y1="272" x2="597.77" y2="388" stroke="#111" stroke-width="1.3" stroke-dasharray="3.5 3.15"/>
<line x1="600.38" y1="272" x2="600.38" y2="388" stroke="#111" stroke-width="1.3" stroke-dasharray="3.5 3.15"/>
<rect x="414.7" y="272" width="329.8" height="116.5" fill="none" stroke="#4a4a4a" stroke-width="1.4"/>
<text x="440.7" y="290" font-size="16.5" class="brn">Search Space</text>
<text transform="translate(539.1 289.6) scale(1.39 1)" x="-3.6" y="0" font-size="18" class="brn">→</text>
<text x="444.3" y="311.8" font-size="17.4" class="brn" stroke="#75440f" stroke-width="0.3">Θ</text>
<text transform="translate(462.30 312.78) scale(1.521 1)" x="-0.65" y="0" font-size="16.3" fill="#75440f">=</text>
<text x="479.7" y="311.8" font-size="16.3" class="brn" stroke="#75440f" stroke-width="0.25">[457,<tspan dx="2.2">576]</tspan></text>
<text x="412.18" y="407.50" font-size="18.5" fill="#363636" class="m">s</text>
<text x="420.10" y="410.35" font-size="13.2" fill="#363636">0</text>
<text transform="translate(433.40 408.57) scale(1.522 1)" x="-0.71" y="0" font-size="17.8" fill="#363636">=</text>
<text x="452.07" y="407.50" font-size="17.8" fill="#363636">0</text>
<text x="553.48" y="408.10" font-size="18.5" fill="#363636" class="m">s</text>
<text x="562.17" y="404.54" font-size="13.4" fill="#363636">*</text>
<text transform="translate(575.00 409.17) scale(1.533 1)" x="-0.71" y="0" font-size="17.8" fill="#363636">=</text>
<text x="593.57" y="408.10" font-size="17.8" fill="#363636">512.</text>
<text x="701.68" y="407.50" font-size="18.5" fill="#222" class="m">s</text>
<text x="709.40" y="410.35" font-size="13.2" fill="#222">2</text>
<text transform="translate(722.80 408.57) scale(1.510 1)" x="-0.71" y="0" font-size="17.8" fill="#222">=</text>
<text x="741.38" y="407.50" font-size="17.8" fill="#222" letter-spacing="0.4">1024</text>
<path d="M577.8 412.0 V436.6" stroke="#964b00" stroke-width="3.2" fill="none"/>
<path d="M577.8 446.6 L568.4 427.1 Q573.8 431.1 577.8 431.6 Q581.8 431.1 587.2 427.1 Z" fill="#964b00"/>
<text x="578.8" y="459.4" font-size="17.2" fill="#3c3cff" stroke="#3c3cff" stroke-width="0.25" class="m">step</text>
<text transform="translate(611.00 460.36) scale(1.406 1)" x="-0.64" y="0" font-size="16.0" fill="#3c3cff">=</text>
<text x="630.7" y="448.9" font-size="15.0" fill="#3c3cff">8</text>
<text x="641.2" y="451.5" font-size="20.0" fill="#3c3cff">×</text>
<text x="657.6" y="448.9" font-size="15.0" fill="#3c3cff">2</text>
<line x1="629.2" y1="455.1" x2="666.8" y2="455.1" stroke="#3c3cff" stroke-width="0.9"/>
<text x="640.6" y="470.0" font-size="15.0" fill="#3c3cff">16</text>
<text transform="translate(673.80 460.36) scale(1.406 1)" x="-0.64" y="0" font-size="16.0" fill="#3c3cff">=</text>
<text x="689.6" y="459.4" font-size="15.9" fill="#3c3cff">1</text>
<line x1="580.8" y1="462" x2="580.8" y2="473.4" stroke="#3c3cff" stroke-width="1.2"/>
<rect x="415.7" y="474" width="329.7" height="115.7" fill="#fff"/>
<rect x="577.6" y="474" width="6.6" height="115.7" fill="#fdf6e1"/>
<g transform="translate(415.20 549.20) scale(1 0.86)" fill="none" stroke-width="0.47">
<use href="#sL" stroke="#419021" stroke-opacity="0.78"/>
<use href="#sR" stroke="#419021" stroke-opacity="0.78"/>
</g>
<line x1="580.9" y1="474" x2="580.9" y2="589.7" stroke="#111" stroke-width="6.6" stroke-dasharray="3.4 3.1"/>
<line x1="580.9" y1="474" x2="580.9" y2="589.7" stroke="#f01818" stroke-width="1.1" stroke-dasharray="3.4 3.1"/>
<rect x="415.7" y="474" width="329.7" height="115.7" fill="none" stroke="#4a4a4a" stroke-width="1.4"/>
<text x="453.7" y="493.3" font-size="16.5" class="brn">Search Space</text>
<text transform="translate(555 492.3) scale(1.42 1)" x="-3.6" y="0" font-size="18" class="brn">→</text>
<text x="453.4" y="517.3" font-size="17.4" class="brn" stroke="#75440f" stroke-width="0.3">Θ</text>
<text transform="translate(471.00 518.28) scale(1.559 1)" x="-0.65" y="0" font-size="16.3" fill="#75440f">=</text>
<text x="488.1" y="517.3" font-size="16.3" class="brn" stroke="#75440f" stroke-width="0.25">[504,<tspan dx="2.2">520]</tspan></text>
<text x="412.98" y="609.00" font-size="18.3" fill="#363636" class="m">s</text>
<text x="420.91" y="611.82" font-size="13.0" fill="#363636">0</text>
<text transform="translate(434.20 610.06) scale(1.539 1)" x="-0.70" y="0" font-size="17.6" fill="#363636">=</text>
<text x="452.87" y="609.00" font-size="17.6" fill="#363636">0</text>
<text x="555.78" y="609.60" font-size="18.3" fill="#a01212" class="m b">s</text>
<text x="564.47" y="606.08" font-size="13.2" fill="#a01212">*</text>
<text transform="translate(577.30 610.66) scale(1.551 1)" x="-0.70" y="0" font-size="17.6" fill="#a01212" stroke="#a01212" stroke-width="0.35">=</text>
<text x="595.87" y="609.60" font-size="17.6" fill="#a01212" stroke="#a01212" stroke-width="0.35">512.</text>
<text x="703.38" y="609.00" font-size="18.3" fill="#222" class="m b">s</text>
<text x="711.11" y="611.82" font-size="13.0" fill="#222">2</text>
<text transform="translate(724.50 610.06) scale(1.527 1)" x="-0.70" y="0" font-size="17.6" fill="#222" stroke="#222" stroke-width="0.15">=</text>
<text x="743.09" y="609.00" font-size="17.6" fill="#222" stroke="#222" stroke-width="0.15" letter-spacing="0.4">1024</text>
<text x="459.8" y="649.4" font-size="19.85" fill="#000" stroke="#000" stroke-width="0.2">(b) Search Acceleration Strategy</text>
</svg></body></html>
